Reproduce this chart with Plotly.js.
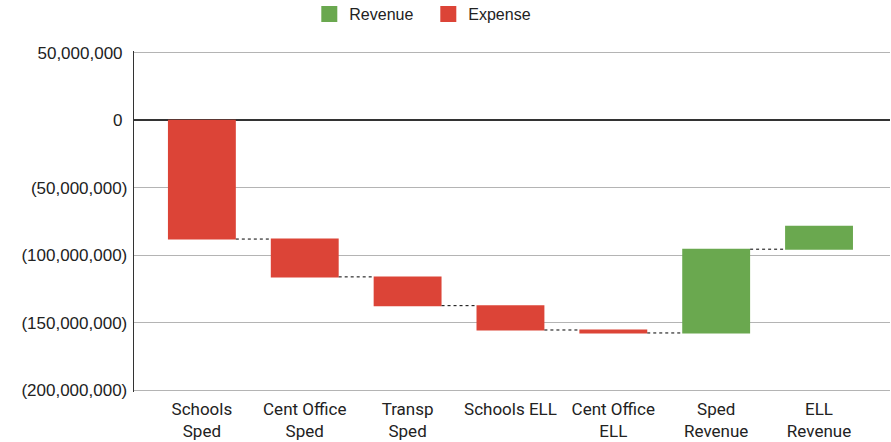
<!DOCTYPE html>
<html><head><meta charset="utf-8">
<script src="https://cdn.plot.ly/plotly-3.0.1.min.js"></script>
<style>html,body{margin:0;padding:0;background:#fff}#chart{width:891px;height:442px}</style>
</head><body><div id="chart"></div>
<script>
const categories = ["Schools<br>Sped","Cent Office<br>Sped","Transp<br>Sped","Schools ELL","Cent Office<br>ELL","Sped<br>Revenue","ELL<br>Revenue"];
const changes = [-88000000,-28000000,-21300000,-18000000,-2200000,62000000,17000000];
const tickValues = [50000000,0,-50000000,-100000000,-150000000,-200000000];
const tickLabels = ["50,000,000&nbsp;","0&nbsp;","(50,000,000)","(100,000,000)","(150,000,000)","(200,000,000)"];
const legendNames = ["Revenue","Expense"];
const green = "#6aa84f", red = "#dc4437";

const traces = [
  {type:"waterfall", x:categories, y:changes, measure:changes.map(()=> "relative"),
   increasing:{marker:{color:green,line:{width:0}}},
   decreasing:{marker:{color:red,line:{width:0}}},
   connector:{mode:"between", line:{color:"#000",width:1,dash:"dot"}},
   showlegend:false, hoverinfo:"x+y"},
  {type:"scatter", mode:"markers", name:legendNames[0], x:[null], y:[null], marker:{symbol:"square", size:16, color:green}, showlegend:true},
  {type:"scatter", mode:"markers", name:legendNames[1], x:[null], y:[null], marker:{symbol:"square", size:16, color:red}, showlegend:true}
];
const layout = {
  width:891, height:442,
  margin:{l:134,r:1,t:51,b:50},
  paper_bgcolor:"#fff", plot_bgcolor:"#fff",
  font:{family:"Roboto, Arial, sans-serif", size:17, color:"#222"},
  waterfallgap:0.34,
  showlegend:true,
  legend:{orientation:"h", xref:"container", yref:"container", x:0.4807, xanchor:"center", y:1-14/442, yanchor:"middle",
          entrywidth:74, entrywidthmode:"pixels",
          font:{family:"'Liberation Sans', Arial, sans-serif", size:16, color:"#222"}, traceorder:"normal", itemsizing:"trace"},
  xaxis:{type:"category", range:[-0.66,6.69], showgrid:false, showline:false, zeroline:false, ticks:"", ticklabelstandoff:5,
         tickfont:{family:"Roboto, sans-serif", size:17, color:"#222"}, automargin:false, fixedrange:true},
  yaxis:{range:[-201200000,51200000], tickvals:tickValues, ticktext:tickLabels, showgrid:true, gridcolor:"#b4b4b4", gridwidth:1.3,
         zeroline:true, zerolinecolor:"#333", zerolinewidth:1.5, showline:true, linecolor:"#333", linewidth:1.3,
         ticks:"", ticklen:0, ticklabelstandoff:2, tickfont:{family:"'Liberation Sans', Arial, sans-serif", size:17, color:"#222"}, automargin:false, fixedrange:true}
};
Plotly.newPlot("chart", traces, layout, {displayModeBar:false, staticPlot:true});
</script></body></html>
